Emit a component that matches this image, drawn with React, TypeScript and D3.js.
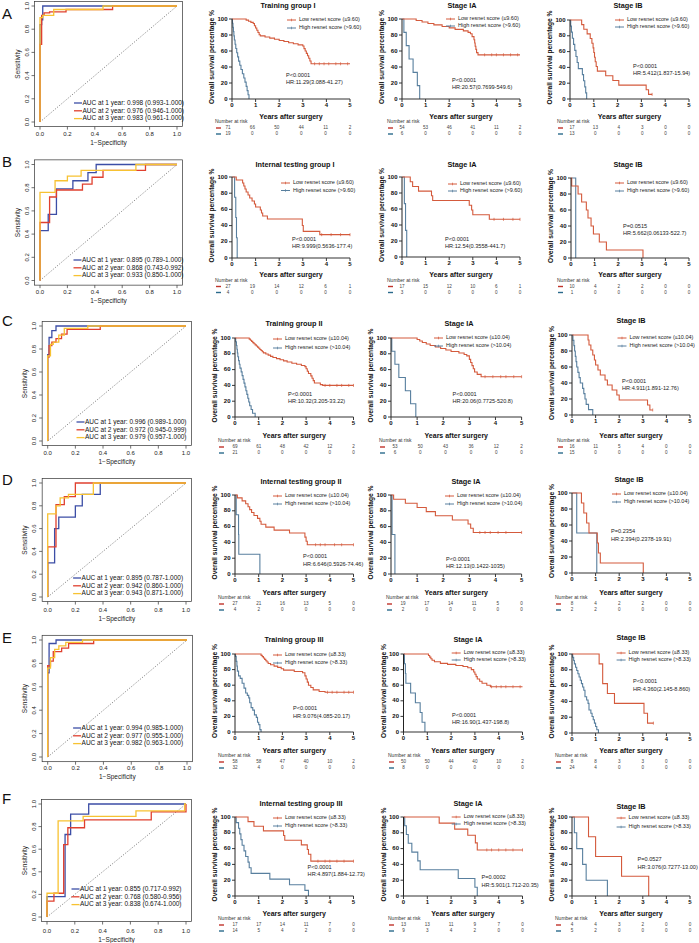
import React from "react";
import * as d3 from "d3";

type Pt = [number, number];

const FONT = "'Liberation Sans', Arial, Helvetica, sans-serif";

// ---------------- ROC data (false positive rate, true positive rate) ----------------
const rocA1y: Pt[] = [[0,0],[0,0.84],[0.012,0.84],[0.012,0.88],[0.02,0.88],[0.02,1],[1,1]];
const rocA2y: Pt[] = [[0,0],[0,0.67],[0.012,0.67],[0.012,0.92],[0.03,0.92],[0.03,0.94],[0.07,0.94],[0.07,0.95],[0.19,0.95],[0.19,0.97],[0.53,0.97],[0.53,1],[1,1]];
const rocA3y: Pt[] = [[0,0],[0,0.9],[0.02,0.9],[0.02,0.92],[0.1,0.92],[0.1,0.97],[0.46,0.97],[0.46,1],[1,1]];

const rocB1y: Pt[] = [[0,0],[0,0.43],[0.06,0.43],[0.06,0.57],[0.12,0.57],[0.12,0.79],[0.24,0.79],[0.24,0.86],[0.35,0.86],[0.35,0.93],[0.41,0.93],[0.41,1],[1,1]];
const rocB2y: Pt[] = [[0,0],[0,0.5],[0.07,0.5],[0.07,0.72],[0.12,0.72],[0.12,0.78],[0.31,0.78],[0.31,0.83],[0.38,0.83],[0.38,0.89],[0.46,0.89],[0.46,0.95],[0.77,0.95],[0.77,1],[1,1]];
const rocB3y: Pt[] = [[0,0],[0,0.76],[0.11,0.76],[0.11,0.86],[0.2,0.86],[0.2,0.9],[0.3,0.9],[0.3,0.95],[0.7,0.95],[0.7,1],[1,1]];

const rocC1y: Pt[] = [[0,0],[0,0.75],[0.01,0.75],[0.01,0.9],[0.03,0.9],[0.03,0.96],[0.06,0.96],[0.06,1],[1,1]];
const rocC2y: Pt[] = [[0,0],[0,0.73],[0.01,0.73],[0.01,0.83],[0.03,0.83],[0.03,0.86],[0.06,0.86],[0.06,0.89],[0.1,0.89],[0.1,0.93],[0.14,0.93],[0.14,0.97],[0.38,0.97],[0.38,1],[1,1]];
const rocC3y: Pt[] = [[0,0],[0,0.74],[0.02,0.74],[0.02,0.84],[0.04,0.84],[0.04,0.86],[0.08,0.86],[0.08,0.92],[0.12,0.92],[0.12,0.98],[0.29,0.98],[0.29,1],[1,1]];

const rocD1y: Pt[] = [[0,0],[0,0.3],[0.05,0.3],[0.05,0.6],[0.08,0.6],[0.08,0.7],[0.2,0.7],[0.2,0.8],[0.25,0.8],[0.25,0.9],[0.38,0.9],[0.38,1],[1,1]];
const rocD2y: Pt[] = [[0,0],[0,0.44],[0.06,0.44],[0.06,0.81],[0.12,0.81],[0.12,0.88],[0.2,0.88],[0.2,1],[1,1]];
const rocD3y: Pt[] = [[0,0],[0,0.73],[0.06,0.73],[0.06,0.8],[0.09,0.8],[0.09,0.87],[0.15,0.87],[0.15,0.9],[0.33,0.9],[0.33,1],[1,1]];

const rocE1y: Pt[] = [[0,0],[0,0.72],[0.01,0.72],[0.01,0.97],[0.06,0.97],[0.06,1],[1,1]];
const rocE2y: Pt[] = [[0,0],[0,0.78],[0.02,0.78],[0.02,0.82],[0.04,0.82],[0.04,0.9],[0.1,0.9],[0.1,0.93],[0.15,0.93],[0.15,0.97],[0.33,0.97],[0.33,1],[1,1]];
const rocE3y: Pt[] = [[0,0],[0,0.76],[0.02,0.76],[0.02,0.85],[0.05,0.85],[0.05,0.92],[0.08,0.92],[0.08,0.95],[0.13,0.95],[0.13,0.98],[0.25,0.98],[0.25,1],[1,1]];

const rocF1y: Pt[] = [[0,0],[0,0.18],[0.13,0.18],[0.13,0.73],[0.17,0.73],[0.17,0.91],[0.3,0.91],[0.3,1],[1,1]];
const rocF2y: Pt[] = [[0,0],[0,0.14],[0.05,0.14],[0.05,0.21],[0.12,0.21],[0.12,0.64],[0.15,0.64],[0.15,0.79],[0.27,0.79],[0.27,0.86],[0.75,0.86],[0.75,0.93],[1,0.93],[1,1]];
const rocF3y: Pt[] = [[0,0],[0,0.21],[0.08,0.21],[0.08,0.85],[0.26,0.85],[0.26,0.89],[0.64,0.89],[0.64,0.94],[0.99,0.94],[0.99,1],[1,1]];

const aucA = ["AUC at 1 year: 0.998 (0.993-1.000)", "AUC at 2 year: 0.976 (0.946-1.000)", "AUC at 3 year: 0.983 (0.961-1.000)"];
const aucB = ["AUC at 1 year: 0.895 (0.789-1.000)", "AUC at 2 year: 0.868 (0.743-0.992)", "AUC at 3 year: 0.933 (0.850-1.000)"];
const aucC = ["AUC at 1 year: 0.996 (0.989-1.000)", "AUC at 2 year: 0.972 (0.945-0.999)", "AUC at 3 year: 0.979 (0.957-1.000)"];
const aucD = ["AUC at 1 year: 0.895 (0.787-1.000)", "AUC at 2 year: 0.942 (0.860-1.000)", "AUC at 3 year: 0.943 (0.871-1.000)"];
const aucE = ["AUC at 1 year: 0.994 (0.985-1.000)", "AUC at 2 year: 0.977 (0.955-1.000)", "AUC at 3 year: 0.982 (0.963-1.000)"];
const aucF = ["AUC at 1 year: 0.855 (0.717-0.992)", "AUC at 2 year: 0.768 (0.580-0.956)", "AUC at 3 year: 0.838 (0.674-1.000)"];

const rowLetters = ["A", "B", "C", "D", "E", "F"];
const rocCurves: Pt[][][] = [
  [rocA1y, rocA2y, rocA3y], [rocB1y, rocB2y, rocB3y], [rocC1y, rocC2y, rocC3y],
  [rocD1y, rocD2y, rocD3y], [rocE1y, rocE2y, rocE3y], [rocF1y, rocF2y, rocF3y],
];
const rocAucLabels = [aucA, aucB, aucC, aucD, aucE, aucF];
const rocTicks = [0, 0.2, 0.4, 0.6, 0.8, 1.0];

// ---------------- Kaplan-Meier data (years, survival %) ----------------
const lowA1: Pt[] = [[0,100],[0.6,98.6],[0.7,97.2],[0.8,95.8],[0.9,94.4],[0.95,91.5],[1.0,88.7],[1.05,85.9],[1.1,83.1],[1.15,80.3],[1.2,78.9],[1.4,77.5],[1.6,76.1],[1.8,74.6],[2.0,73.2],[2.2,71.8],[2.4,70.4],[2.6,69.0],[2.8,67.6],[3.0,66.2],[3.05,63.0],[3.1,60.0],[3.15,57.0],[3.2,54.0],[3.25,51.0],[3.3,47.5],[3.35,44.0],[5,44.0]];
const highA1: Pt[] = [[0,100],[0.02,94.7],[0.04,89.5],[0.06,84.2],[0.08,78.9],[0.1,73.7],[0.13,68.4],[0.16,63.2],[0.2,57.9],[0.24,52.6],[0.28,47.4],[0.33,42.1],[0.38,36.8],[0.44,31.6],[0.5,26.3],[0.55,21.1],[0.6,15.8],[0.64,10.5],[0.68,5.3],[0.72,0]];
const lowA2: Pt[] = [[0,100],[0.6,98.1],[0.85,96.3],[1.1,94.4],[1.35,92.6],[1.7,90.7],[2.0,88.9],[2.25,87.0],[2.6,85.2],[2.8,83.3],[2.9,81.5],[2.97,78.0],[3.05,74.0],[3.08,70.0],[3.1,66.0],[3.13,62.0],[3.16,58.0],[3.22,55.2],[5,55.2]];
const highA2: Pt[] = [[0,100],[0.08,83.3],[0.18,66.7],[0.3,50],[0.47,33.3],[0.65,16.7],[0.75,0]];
const lowA3: Pt[] = [[0,100],[0.49,94.1],[0.58,88.2],[0.72,82.4],[0.85,76.5],[0.92,70.6],[0.97,64.7],[1.0,58.8],[1.03,52.9],[1.06,47.1],[1.1,41.2],[1.15,35.3],[1.5,29.4],[1.8,23.5],[2.05,17.6],[3.2,11.8],[3.3,5.9],[3.45,5.9]];
const highA3: Pt[] = [[0,100],[0.03,92.3],[0.06,84.6],[0.1,76.9],[0.15,69.2],[0.2,61.5],[0.25,53.8],[0.3,46.2],[0.35,38.5],[0.52,30.8],[0.57,23.1],[0.62,15.4],[0.66,7.7],[0.7,0]];

const lowB1: Pt[] = [[0,100],[0.18,96.3],[0.45,92.6],[0.5,88.9],[0.55,85.2],[0.6,81.5],[0.68,77.8],[0.75,74.1],[0.85,70.4],[0.95,66.7],[1.0,63.0],[1.2,59.3],[1.25,55.6],[1.3,51.9],[1.5,48.1],[2.98,40.1],[3.02,32.9],[3.72,28.8],[5,28.8]];
const highB1: Pt[] = [[0,100],[0.11,75],[0.16,50],[0.19,25],[0.22,0]];
const lowB2: Pt[] = [[0,100],[0.35,94.1],[0.45,88.2],[0.7,82.4],[1.25,76.5],[1.3,70.6],[2.85,64.7],[2.95,58.8],[3.0,52.9],[3.7,47.1],[5,47.1]];
const highB2: Pt[] = [[0,100],[0.1,66.7],[0.15,33.3],[0.2,0]];
const lowB3: Pt[] = [[0,100],[0.03,90],[0.3,80],[0.45,70],[0.65,60],[0.72,50],[0.85,40],[0.95,30],[1.2,20],[1.5,10],[3.05,0]];
const highB3: Pt[] = [[0,100],[0.2,0]];

const lowC1: Pt[] = [[0,100],[0.6,98.6],[0.65,97.1],[0.7,95.7],[0.75,94.2],[0.8,92.8],[0.85,91.3],[0.9,89.9],[0.95,88.4],[1.0,87.0],[1.05,85.5],[1.1,84.1],[1.15,82.6],[1.2,81.2],[1.3,79.7],[1.4,78.3],[1.5,76.8],[1.6,75.4],[1.75,73.9],[1.9,72.5],[2.05,71.0],[2.2,69.6],[2.4,68.1],[2.6,66.7],[2.8,65.2],[2.95,63.8],[3.0,61.0],[3.05,58.0],[3.1,55.0],[3.2,52.0],[3.25,49.0],[3.3,46.0],[3.35,43.0],[3.6,41.0],[3.7,40.0],[5,40.0]];
const highC1: Pt[] = [[0,100],[0.03,95.2],[0.06,90.5],[0.08,85.7],[0.1,81.0],[0.12,76.2],[0.15,71.4],[0.18,66.7],[0.21,61.9],[0.26,57.1],[0.3,52.4],[0.34,47.6],[0.38,42.9],[0.42,38.1],[0.46,33.3],[0.5,28.6],[0.54,23.8],[0.58,19.0],[0.62,14.3],[0.68,9.5],[0.74,4.8],[0.85,0]];
const lowC2: Pt[] = [[0,100],[1.0,98.1],[1.1,96.2],[1.2,94.3],[1.35,92.5],[1.5,90.6],[1.7,88.7],[1.9,86.8],[2.1,84.9],[2.3,83.0],[2.6,81.1],[2.8,79.2],[2.9,77.4],[3.0,73.0],[3.05,69.0],[3.1,65.0],[3.15,61.0],[3.2,57.0],[3.3,54.0],[3.45,51.0],[5,51.0]];
const highC2: Pt[] = [[0,100],[0.03,83.3],[0.15,66.7],[0.3,50],[0.55,33.3],[0.75,16.7],[0.95,0]];
const lowC3: Pt[] = [[0,100],[0.68,93.8],[0.72,87.5],[0.8,81.3],[0.88,75.0],[0.95,68.8],[1.0,62.5],[1.1,56.3],[1.2,50.0],[1.4,43.8],[1.5,37.5],[1.7,31.3],[1.9,25.0],[2.0,18.8],[3.2,12.5],[3.3,6.3],[3.42,6.3]];
const highC3: Pt[] = [[0,100],[0.04,93.3],[0.08,86.7],[0.11,80],[0.14,73.3],[0.17,66.7],[0.2,60],[0.25,53.3],[0.3,46.7],[0.35,40],[0.45,33.3],[0.5,26.7],[0.55,20],[0.6,13.3],[0.7,6.7],[0.88,0]];

const lowD1: Pt[] = [[0,100],[0.1,96.3],[0.3,92.6],[0.45,88.9],[0.55,85.2],[0.62,81.5],[0.7,77.8],[0.8,74.1],[0.95,70.4],[1.05,66.7],[1.1,63.0],[1.3,59.3],[1.65,55.6],[2.3,51.9],[2.95,46.7],[3.0,41.5],[3.05,37.0],[5,37.0]];
const highD1: Pt[] = [[0,100],[0.05,75],[0.15,50],[0.16,25],[1.05,0]];
const lowD2: Pt[] = [[0,100],[0.1,94.7],[0.55,89.5],[1.0,84.2],[1.35,78.9],[1.7,73.7],[2.35,68.4],[2.95,63.2],[3.05,57.9],[3.15,52.6],[5,52.6]];
const highD2: Pt[] = [[0,100],[0.04,50],[0.15,0]];
const lowD3: Pt[] = [[0,100],[0.4,87.5],[0.5,75],[0.62,62.5],[0.72,50],[1.07,37.5],[1.12,25],[1.2,12.5],[3.02,0]];
const highD3: Pt[] = [[0,100],[0.2,50],[1.05,0]];

const lowE1: Pt[] = [[0,100],[1.1,98.3],[1.15,96.6],[1.2,94.8],[1.25,93.1],[1.3,91.4],[1.35,89.7],[1.4,87.9],[1.5,86.2],[1.65,84.5],[1.8,82.8],[1.95,81.0],[2.05,79.3],[2.5,77.6],[2.85,75.9],[2.95,72.0],[3.0,68.0],[3.05,64.0],[3.1,60.0],[3.2,57.0],[3.3,54.0],[3.55,52.0],[3.8,51.0],[5,51.0]];
const highE1: Pt[] = [[0,100],[0.02,96.9],[0.05,90.6],[0.08,84.4],[0.1,78.1],[0.15,71.9],[0.22,68.8],[0.3,62.5],[0.38,56.3],[0.45,50.0],[0.52,46.9],[0.58,43.8],[0.62,37.5],[0.68,31.3],[0.75,28.1],[0.82,21.9],[0.9,18.8],[0.95,12.5],[1.0,9.4],[1.05,3.1],[1.1,0]];
const lowE2: Pt[] = [[0,100],[1.05,98],[1.1,96],[1.15,94],[1.2,92],[1.3,90],[1.55,88],[1.85,86.7],[2.2,85.3],[2.5,84.0],[2.7,82.4],[2.85,80.0],[2.95,77.0],[3.0,74.0],[3.05,71.0],[3.1,68.0],[3.2,65.0],[3.3,62.5],[3.5,60.0],[3.65,58.0],[5,58.0]];
const highE2: Pt[] = [[0,100],[0.04,87.5],[0.08,75],[0.1,62.5],[0.3,50],[0.5,37.5],[0.7,25],[0.78,12.5],[0.9,0]];
const lowE3: Pt[] = [[0,100],[1.15,87.5],[1.3,62.5],[1.5,50],[1.8,37.5],[3.05,25],[3.2,12.5],[3.45,12.5]];
const highE3: Pt[] = [[0,100],[0.03,95.8],[0.07,91.7],[0.1,87.5],[0.15,83.3],[0.2,79.2],[0.25,75],[0.3,70.8],[0.35,66.7],[0.4,62.5],[0.45,58.3],[0.5,54.2],[0.55,45.8],[0.62,41.7],[0.68,37.5],[0.72,29.2],[0.8,25],[0.85,20.8],[0.9,16.7],[0.95,12.5],[1.0,8.3],[1.05,4.2],[1.12,0]];

const lowF1: Pt[] = [[0,100],[0.55,94.1],[0.8,88.2],[1.2,82.4],[2.05,76.5],[2.1,70.6],[2.8,64.7],[3.05,58.8],[3.1,52.9],[3.2,44.1],[5,44.1]];
const highF1: Pt[] = [[0,100],[0.05,92.9],[0.15,85.7],[0.2,78.6],[0.25,71.4],[0.3,64.3],[0.38,57.1],[0.45,50],[0.55,42.9],[0.6,35.7],[0.68,28.6],[1.47,21.4],[2.3,14.3],[2.95,7.1],[3.1,0]];
const lowF2: Pt[] = [[0,100],[1.5,92.3],[2.15,84.6],[2.7,76.9],[3.02,67.3],[3.1,58.3],[5,58.3]];
const highF2: Pt[] = [[0,100],[0.05,88.9],[0.12,77.8],[0.2,66.7],[0.35,55.6],[0.6,44.4],[0.7,33.3],[2.3,22.2],[3.0,11.1],[3.1,0]];
const lowF3: Pt[] = [[0,100],[0.7,75],[1.0,50],[2.1,25],[3.25,0]];
const highF3: Pt[] = [[0,100],[0.1,80],[0.2,60],[0.45,40],[0.6,20],[1.5,0]];

// censoring times on the low-score curves
const censorLow: number[][] = [
  [3.5, 3.7, 3.9, 4.1, 4.4, 4.6, 4.9], [3.5, 3.8, 4.0, 4.3, 4.6, 4.9], [3.45],
  [3.8, 4.2, 4.6, 5.0], [3.9, 4.3, 4.7, 5.0], [],
  [3.8, 4.0, 4.3, 4.5, 4.8, 5.0], [3.6, 3.9, 4.2, 4.4, 4.7, 5.0], [3.42],
  [3.4, 3.6, 3.8, 4.2, 4.5, 5.0], [3.4, 3.6, 3.8, 4.1, 4.4, 5.0], [],
  [3.9, 4.1, 4.3, 4.6, 4.8, 5.0], [3.7, 3.9, 4.1, 4.3, 4.6, 4.9], [3.45],
  [3.5, 3.8, 4.0, 4.3, 4.6, 5.0], [3.5, 3.7, 4.0, 4.3, 4.6, 5.0], [],
];

const kmTitles = [
  "Training group I", "Stage IA", "Stage IB",
  "Internal testing group I", "Stage IA", "Stage IB",
  "Training group II", "Stage IA", "Stage IB",
  "Internal testing group II", "Stage IA", "Stage IB",
  "Training group III", "Stage IA", "Stage IB",
  "Internal testing group III", "Stage IA", "Stage IB",
];
const rowCutoffs = ["9.60", "9.60", "10.04", "10.04", "8.33", "8.33"];
const kmPvals = [
  "P<0.0001", "P<0.0001", "P<0.0001",
  "P<0.0001", "P<0.0001", "P=0.0515",
  "P<0.0001", "P<0.0001", "P<0.0001",
  "P<0.0001", "P<0.0001", "P=0.2354",
  "P<0.0001", "P<0.0001", "P<0.0001",
  "P<0.0001", "P=0.0002", "P=0.0527",
];
const kmHRs = [
  "HR:11.29(3.088-41.27)", "HR:20.57(0.7699-549.6)", "HR:5.412(1.837-15.94)",
  "HR:9.999(0.5636-177.4)", "HR:12.54(0.3558-441.7)", "HR:5.662(0.06133-522.7)",
  "HR:10.32(3.205-33.22)", "HR:20.06(0.7725-520.8)", "HR:4.911(1.891-12.76)",
  "HR:6.646(0.5926-74.46)", "HR:12.13(0.1422-1035)", "HR:2.394(0.2378-19.91)",
  "HR:9.076(4.085-20.17)", "HR:16.90(1.437-198.8)", "HR:4.360(2.145-8.860)",
  "HR:4.897(1.884-12.73)", "HR:5.901(1.712-20.35)", "HR:3.076(0.7277-13.00)",
];
const riskLow: number[][] = [
  [71, 66, 50, 44, 11, 2], [54, 53, 46, 41, 11, 2], [17, 13, 4, 3, 0, 0],
  [27, 19, 14, 12, 6, 1], [17, 15, 12, 10, 6, 1], [10, 4, 2, 2, 0, 0],
  [69, 61, 48, 42, 12, 2], [53, 50, 43, 36, 12, 2], [16, 11, 5, 4, 0, 0],
  [27, 21, 16, 13, 5, 0], [19, 17, 14, 11, 5, 0], [8, 4, 2, 2, 0, 0],
  [58, 58, 47, 40, 10, 2], [50, 50, 44, 40, 10, 2], [8, 8, 3, 3, 0, 0],
  [17, 17, 14, 11, 7, 0], [13, 13, 11, 9, 7, 0], [4, 4, 3, 2, 0, 0],
];
const riskHigh: number[][] = [
  [19, 0, 0, 0, 0, 0], [6, 0, 0, 0, 0, 0], [13, 0, 0, 0, 0, 0],
  [4, 0, 0, 0, 0, 0], [3, 0, 0, 0, 0, 0], [1, 0, 0, 0, 0, 0],
  [21, 0, 0, 0, 0, 0], [6, 0, 0, 0, 0, 0], [15, 0, 0, 0, 0, 0],
  [4, 2, 0, 0, 0, 0], [2, 0, 0, 0, 0, 0], [2, 2, 0, 0, 0, 0],
  [32, 4, 0, 0, 0, 0], [8, 0, 0, 0, 0, 0], [24, 4, 0, 0, 0, 0],
  [14, 5, 4, 2, 0, 0], [9, 3, 4, 2, 0, 0], [5, 2, 0, 0, 0, 0],
];
const kmLow: Pt[][] = [lowA1, lowA2, lowA3, lowB1, lowB2, lowB3, lowC1, lowC2, lowC3, lowD1, lowD2, lowD3, lowE1, lowE2, lowE3, lowF1, lowF2, lowF3];
const kmHigh: Pt[][] = [highA1, highA2, highA3, highB1, highB2, highB3, highC1, highC2, highC3, highD1, highD2, highD3, highE1, highE2, highE3, highF1, highF2, highF3];
const yearTicks = [0, 1, 2, 3, 4, 5];
const pctTicks = [0, 20, 40, 60, 80, 100];

// ---------------- layout (positions only) ----------------
const rowOffsets = [0, 158.5, 319, 476, 634, 797];
const letterY = [18.5, 8.5, 6.5, 9, 9, 6.5];
const rocXRange = [[40, 177], [40, 177], [47.7, 186], [47.7, 186], [47.7, 187], [47, 186]];
const rocYRange = [[6, 122], [6, 122], [7, 122], [7, 121], [6, 123], [7, 120]];
const rocLegend = [[82.5, 103], [82, 101.5], [85, 103], [81.6, 102], [81.6, 94], [80, 92]];
// x0, x5, y100, y0, titleX, titleY, legX, legY1, legY2, pX, pY, hrY, narX, riskStartX
const kmLayout: number[][] = [
  [232, 350, 19, 99, 288, 6, 299, 20, 28, 286, 76, 83, 215, 228],
  [402, 520, 19, 99, 462, 6, 458, 19, 26, 452, 81, 88, 387, 402],
  [570, 689, 20, 99, 628, 6, 627, 20, 27, 633, 67, 74, 557, 572],
  [232, 350, 18.5, 99.5, 295, 6.5, 293, 24.5, 32, 292, 81.5, 88.5, 215, 228],
  [402, 520, 18.5, 98.5, 462, 6.5, 460, 25.5, 32.5, 445, 81.5, 88.5, 387, 402],
  [571, 689, 19.5, 99.5, 628, 6.5, 627, 24.5, 32.5, 623, 68.5, 75.5, 557, 572],
  [235, 353.5, 19, 98, 294, 5, 285, 20, 29, 288, 76, 83, 218, 235],
  [391, 521.6, 19, 98, 459, 5, 446, 19, 27, 452.5, 76, 83, 379, 395],
  [572, 690, 16, 96, 631, 2, 629.5, 19, 27, 622, 63, 70, 557, 572],
  [235, 353.5, 19, 98, 301, 6, 285, 20, 28, 303, 81, 89, 218, 235],
  [391, 521.6, 19, 98, 466, 6, 457, 20, 28, 446, 84, 91, 386, 403],
  [572, 690, 17, 97, 629, 4, 624, 18, 26, 611, 56, 64, 555, 572],
  [235, 353.5, 20, 98, 294, 6, 285, 21, 29, 293, 75, 83, 218, 235],
  [403.5, 522.5, 20, 98, 468, 6, 463.7, 19, 26, 452, 82, 89, 388, 403.5],
  [572, 690, 20, 99, 631, 4.5, 628.6, 19, 26, 633, 48, 56, 555, 572],
  [235, 353.5, 20, 99, 301, 7, 285, 21, 29, 307.6, 70.5, 77.5, 218, 235],
  [403.5, 522.5, 20, 99, 468, 7, 463.7, 20, 27, 481.5, 81, 89, 388, 403.5],
  [572, 690, 20, 99, 631, 9.7, 628.6, 21, 30, 637.5, 63, 71, 555, 572],
];

const ROC_COLORS = ["#3c4ea6", "#e0402f", "#f7c232"];
const KM_LOW = "#d45a3c";
const KM_HIGH = "#587f9e";
const DASH_LOW = "#c0332a";
const DASH_HIGH = "#2a6a8c";

function stepAt(pts: Pt[], t: number): number {
  const i = d3.bisector((d: Pt) => d[0]).right(pts, t) - 1;
  return pts[Math.max(0, i)][1];
}

function RocPanel({ r }: { r: number }) {
  const oy = rowOffsets[r];
  const [rx0, rx1] = rocXRange[r];
  const [ryTop, ryBot] = rocYRange[r];
  const sx = d3.scaleLinear().domain([0, 1]).range([rx0, rx1]);
  const sy = d3.scaleLinear().domain([0, 1]).range([oy + ryBot, oy + ryTop]);
  const line = d3.line<Pt>().x((d) => sx(d[0])).y((d) => sy(d[1]));
  const bx0 = sx(-0.04), bx1 = sx(1.04), byT = sy(1.04), byB = sy(-0.04);
  const fmt = d3.format(".1f");
  const [lx, ly] = rocLegend[r];
  return (
    <g>
      <text x={2} y={oy + letterY[r]} fontSize={15} fill="#111">{rowLetters[r]}</text>
      <rect x={bx0} y={byT} width={bx1 - bx0} height={byB - byT} fill="none" stroke="#333" strokeWidth={0.7} />
      {rocTicks.map((t) => (
        <g key={"x" + t}>
          <line x1={sx(t)} x2={sx(t)} y1={byB} y2={byB + 3} stroke="#333" strokeWidth={0.7} />
          <text x={sx(t)} y={oy + 134} fontSize={6} textAnchor="middle" dominantBaseline="middle" fill="#222">{fmt(t)}</text>
          <line x1={bx0} x2={bx0 - 3} y1={sy(t)} y2={sy(t)} stroke="#333" strokeWidth={0.7} />
          <text x={rx0 - 13} y={sy(t)} fontSize={6} textAnchor="middle" dominantBaseline="middle" fill="#222"
            transform={`rotate(-90 ${rx0 - 13} ${sy(t)})`}>{fmt(t)}</text>
        </g>
      ))}
      <text x={rx0 - 22} y={oy + (ryTop + ryBot) / 2} fontSize={6.5} textAnchor="middle" dominantBaseline="middle" fill="#222"
        transform={`rotate(-90 ${rx0 - 22} ${oy + (ryTop + ryBot) / 2})`}>Sensitivity</text>
      <text x={(rx0 + rx1) / 2} y={oy + 143} fontSize={6.5} textAnchor="middle" dominantBaseline="middle" fill="#222">1−Specificity</text>
      <line x1={sx(0)} y1={sy(0)} x2={sx(1)} y2={sy(1)} stroke="#555" strokeWidth={0.7} strokeDasharray="1.2,1.6" />
      {rocCurves[r].map((c, i) => (
        <path key={i} d={line(c) || ""} fill="none" stroke={ROC_COLORS[i]} strokeWidth={1.3} />
      ))}
      {rocAucLabels[r].map((s, i) => (
        <g key={"l" + i}>
          <line x1={lx - 8.5} x2={lx - 0.5} y1={oy + ly + i * 7.8} y2={oy + ly + i * 7.8} stroke={ROC_COLORS[i]} strokeWidth={1.3} />
          <text x={lx} y={oy + ly + i * 7.8} fontSize={6.5} dominantBaseline="middle" fill="#111">{s}</text>
        </g>
      ))}
    </g>
  );
}

function KmPanel({ p }: { p: number }) {
  const r = Math.floor(p / 3);
  const oy = rowOffsets[r];
  const [x0, x5, y100, y0, tX, tY, legX, legY1, legY2, pX, pY, hrY, narX, riskX] = kmLayout[p];
  const sx = d3.scaleLinear().domain([0, 5]).range([x0, x5]);
  const sy = d3.scaleLinear().domain([0, 100]).range([oy + y0, oy + y100]);
  const sRisk = d3.scaleLinear().domain([0, 5]).range([riskX, x5]);
  const line = d3.line<Pt>().x((d) => sx(d[0])).y((d) => sy(d[1])).curve(d3.curveStepAfter);
  const cut = rowCutoffs[r];
  const yMid = (sy(0) + sy(100)) / 2 - 2;
  const legend = [
    { y: oy + legY1, c: KM_LOW, s: `Low resnet score (≤${cut})` },
    { y: oy + legY2, c: KM_HIGH, s: `High resnet score (>${cut})` },
  ];
  return (
    <g>
      <text x={tX} y={oy + tY} fontSize={7.3} fontWeight="bold" textAnchor="middle" dominantBaseline="middle" fill="#111">{kmTitles[p]}</text>
      <text x={x0 - 19.5} y={yMid} fontSize={6.6} fontWeight="bold" textAnchor="middle" dominantBaseline="middle" fill="#111"
        transform={`rotate(-90 ${x0 - 19.5} ${yMid})`}>Overall survival percentage %</text>
      {pctTicks.map((t) => (
        <g key={"y" + t}>
          <line x1={x0 - 3} x2={x0} y1={sy(t)} y2={sy(t)} stroke="#222" strokeWidth={0.9} />
          <text x={x0 - 4.5} y={sy(t)} fontSize={6} fontWeight="bold" textAnchor="end" dominantBaseline="middle" fill="#111">{t}</text>
        </g>
      ))}
      {yearTicks.map((t) => (
        <g key={"x" + t}>
          <line x1={sx(t)} x2={sx(t)} y1={sy(0)} y2={sy(0) + 3} stroke="#222" strokeWidth={0.9} />
          <text x={sx(t)} y={sy(0) + 6.5} fontSize={6} fontWeight="bold" textAnchor="middle" dominantBaseline="middle" fill="#111">{t}</text>
        </g>
      ))}
      <text x={(x0 + x5) / 2} y={oy + 117} fontSize={7} fontWeight="bold" textAnchor="middle" dominantBaseline="middle" fill="#111">Years after surgery</text>
      <path d={line(kmHigh[p]) || ""} fill="none" stroke={KM_HIGH} strokeWidth={1.1} />
      <path d={line(kmLow[p]) || ""} fill="none" stroke={KM_LOW} strokeWidth={1.1} />
      {censorLow[p].map((t, i) => (
        <line key={"c" + i} x1={sx(t)} x2={sx(t)} y1={sy(stepAt(kmLow[p], t)) - 1.5} y2={sy(stepAt(kmLow[p], t)) + 1.5} stroke={KM_LOW} strokeWidth={0.7} />
      ))}
      <line x1={x0} x2={x0} y1={sy(0)} y2={sy(100)} stroke="#222" strokeWidth={1} />
      <line x1={x0} x2={x5} y1={sy(0)} y2={sy(0)} stroke="#333" strokeWidth={1.2} />
      {legend.map((l, i) => (
        <g key={"lg" + i}>
          <line x1={legX - 12} x2={legX - 3} y1={l.y} y2={l.y} stroke={l.c} strokeWidth={1} />
          <line x1={legX - 7.5} x2={legX - 7.5} y1={l.y - 1.3} y2={l.y + 1.3} stroke={l.c} strokeWidth={0.7} />
          <text x={legX} y={l.y} fontSize={5.5} dominantBaseline="middle" fill="#222">{l.s}</text>
        </g>
      ))}
      <text x={pX} y={oy + pY} fontSize={5.6} dominantBaseline="middle" fill="#222">{kmPvals[p]}</text>
      <text x={pX} y={oy + hrY} fontSize={5.6} dominantBaseline="middle" fill="#222">{kmHRs[p]}</text>
      <text x={narX} y={oy + 122} fontSize={5} dominantBaseline="middle" fill="#333">Number at risk</text>
      <line x1={narX + 1} x2={narX + 6} y1={oy + 128} y2={oy + 128} stroke={DASH_LOW} strokeWidth={1.4} />
      <line x1={narX + 1} x2={narX + 6} y1={oy + 134} y2={oy + 134} stroke={DASH_HIGH} strokeWidth={1.4} />
      {riskLow[p].map((v, i) => (
        <text key={"rl" + i} x={sRisk(yearTicks[i])} y={oy + 128} fontSize={4.6} textAnchor="middle" dominantBaseline="middle" fill="#444">{v}</text>
      ))}
      {riskHigh[p].map((v, i) => (
        <text key={"rh" + i} x={sRisk(yearTicks[i])} y={oy + 134} fontSize={4.6} textAnchor="middle" dominantBaseline="middle" fill="#444">{v}</text>
      ))}
    </g>
  );
}

export default function App() {
  return (
    <svg width={699} height={943} viewBox="0 0 699 943" fontFamily={FONT}
      style={{ position: "absolute", left: 0, top: 0, background: "#fff" }}>
      <rect x={0} y={0} width={699} height={943} fill="#fff" />
      {rowLetters.map((_, r) => <RocPanel key={"roc" + r} r={r} />)}
      {kmTitles.map((_, p) => <KmPanel key={"km" + p} p={p} />)}
    </svg>
  );
}
